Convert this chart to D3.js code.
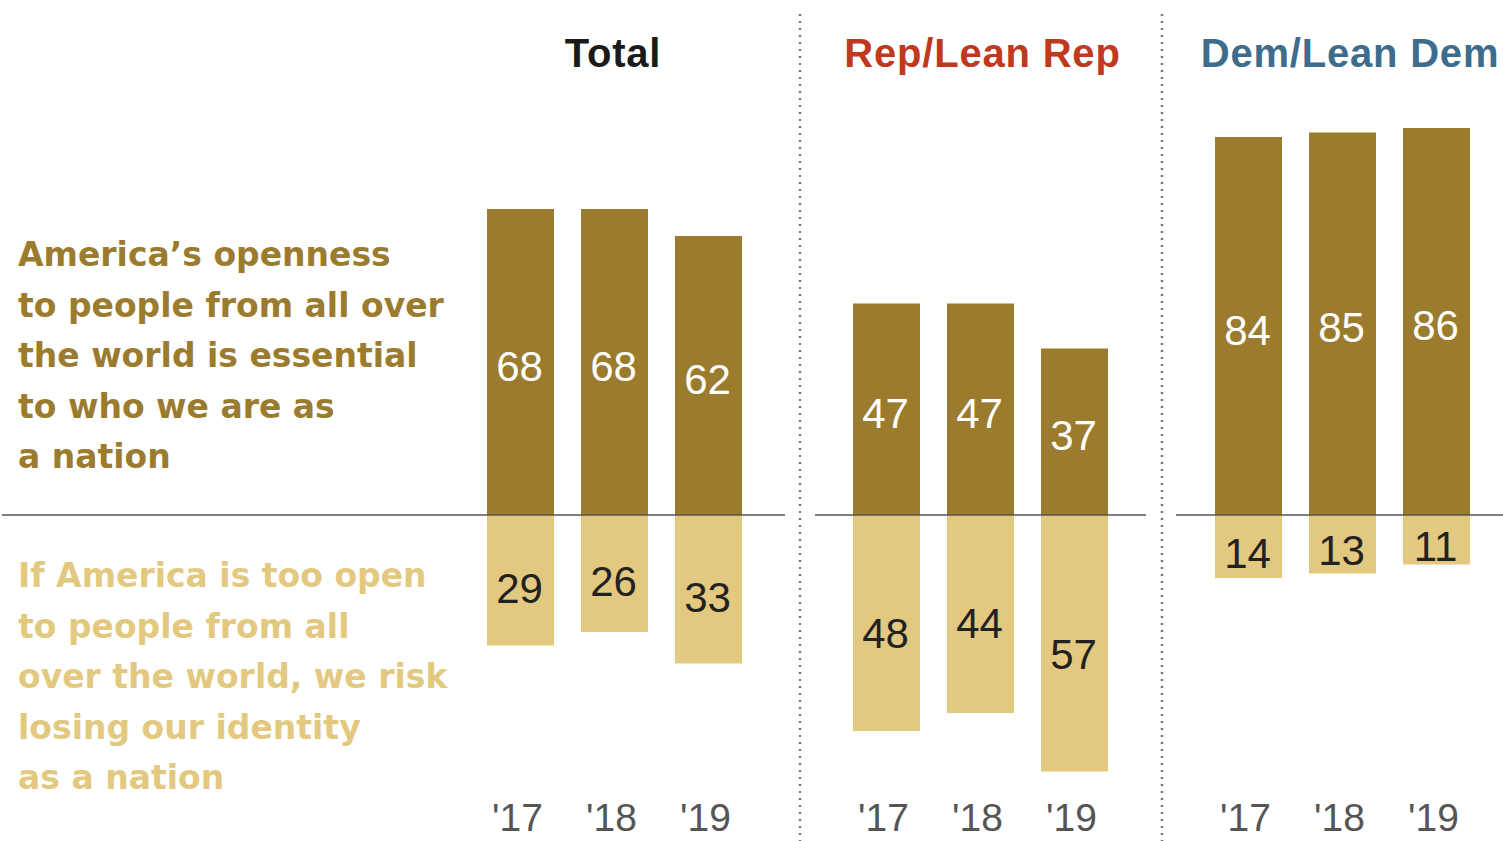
<!DOCTYPE html>
<html><head><meta charset="utf-8">
<script src="https://cdn.jsdelivr.net/npm/d3@7"></script>
<style>body{margin:0;background:#fff}svg{display:block}</style>
</head><body>
<svg id="c" width="1503" height="841"></svg>
<script>
const years = ["'17", "'18", "'19"];
const groups = ["Total", "Rep/Lean Rep", "Dem/Lean Dem"];
const essential = [[68, 68, 62], [47, 47, 37], [84, 85, 86]];
const riskLosing = [[29, 26, 33], [48, 44, 57], [14, 13, 11]];
const essentialLabel = ["America\u2019s openness", "to people from all over", "the world is essential", "to who we are as", "a nation"];
const riskLabel = ["If America is too open", "to people from all", "over the world, we risk", "losing our identity", "as a nation"];

const dark = "#9b7b2e", light = "#e3c97f";
const titleColors = ["#1a1a1a", "#c0391f", "#3e6c8c"];
const panelCenters = [614.5, 980.5, 1342.5];
const titleCenters = [613, 982.5, 1350];
const panelLines = [[2, 785], [815, 1146], [1176, 1503]];
const separators = [800, 1162];
const barW = 67;

const svg = d3.select("#c");
const y = d3.scaleLinear().domain([-100, 100]).range([965, 65]);
const x0 = y(0);
const sans = "Liberation Sans, Arial, sans-serif";

groups.forEach((g, i) => {
  const x = d3.scalePoint().domain(years).range([panelCenters[i] - 94, panelCenters[i] + 94]);
  const p = svg.append("g");
  p.append("text").attr("x", titleCenters[i]).attr("y", 67).attr("text-anchor", "middle")
    .attr("font-family", sans).attr("font-weight", "bold").attr("letter-spacing", 0.8)
    .attr("font-size", 40).attr("fill", titleColors[i]).text(g);
  years.forEach((yr, j) => {
    const cx = x(yr);
    const v1 = essential[i][j], v2 = riskLosing[i][j];
    p.append("rect").attr("x", cx - barW / 2).attr("y", y(v1)).attr("width", barW).attr("height", x0 - y(v1)).attr("fill", dark);
    p.append("rect").attr("x", cx - barW / 2).attr("y", x0).attr("width", barW).attr("height", y(-v2) - x0).attr("fill", light);
    p.append("text").attr("x", cx - 1).attr("y", (y(v1) + x0) / 2 + 4).attr("dy", "0.35em").attr("text-anchor", "middle")
      .attr("font-family", sans).attr("font-size", 42).attr("fill", "#fff").text(v1);
    p.append("text").attr("x", cx - 1).attr("y", (y(-v2) + x0) / 2 + 5 + v2 * 0.1).attr("dy", "0.35em").attr("text-anchor", "middle")
      .attr("font-family", sans).attr("font-size", 42).attr("fill", "#222").text(v2);
    p.append("text").attr("x", cx - 3).attr("y", 831).attr("text-anchor", "middle")
      .attr("font-family", sans).attr("font-size", 39).attr("fill", "#555").text(yr);
  });
  p.append("line").attr("x1", panelLines[i][0]).attr("x2", panelLines[i][1]).attr("y1", x0).attr("y2", x0)
    .attr("stroke", "#555").attr("stroke-width", 1.5);
});

separators.forEach(sx => {
  svg.append("line").attr("x1", sx).attr("x2", sx).attr("y1", 14).attr("y2", 841)
    .attr("stroke", "#777").attr("stroke-width", 2.5).attr("stroke-dasharray", "2,5");
});

const lab = (lines, y0, color) => {
  const t = svg.append("text").attr("font-family", "DejaVu Sans, sans-serif").attr("font-weight", "bold")
    .attr("font-size", 33).attr("fill", color);
  lines.forEach((l, k) => t.append("tspan").attr("x", 18).attr("y", y0 + k * 50.5).text(l));
};
lab(essentialLabel, 266, dark);
lab(riskLabel, 587, light);
</script>
</body></html>
